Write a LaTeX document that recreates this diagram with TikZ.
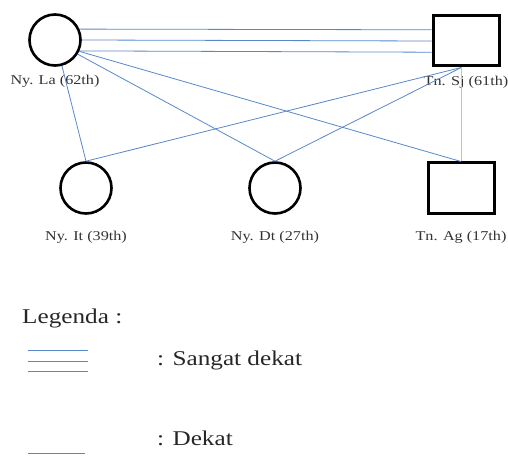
\documentclass[tikz,border=0pt]{standalone}
\usepackage{fontspec}
\setmainfont[FakeStretch=1.2]{Liberation Serif}
\usetikzlibrary{positioning}
\definecolor{tieblue}{RGB}{88,136,204}
\definecolor{tielight}{RGB}{172,198,234}

\begin{document}
\begin{tikzpicture}[
    x=1pt, y=-1pt,
    font=\fontsize{13.5}{16}\selectfont,
    female/.style={circle, draw=black, line width=2.6pt, minimum size=51pt,
                   inner sep=0pt},
    male/.style={rectangle, draw=black, line width=3pt, minimum width=66pt,
                 minimum height=50pt, inner sep=0pt},
    tag/.style={text=black!80, inner sep=0pt},
    tie/.style={tieblue, line width=0.8pt},
    weaktie/.style={tielight, line width=0.8pt},
    legendtext/.style={font=\fontsize{21}{25}\selectfont, text=black!85,
                       anchor=west, inner sep=0pt}
]
\useasboundingbox (0,0) rectangle (508,457);
% family members
\node[female] (La) at (55,40) {};
\node[male] (Sj) at (466,41) {};
\node[female] (It) at (86,188) {};
\node[female] (Dt) at (275,188) {};
\node[male] (Ag) at (461,188) {};
\node[tag, below=8pt of La] (laname) {Ny. La (62th)};
\node[tag, below=8pt of Sj] (sjname) {Tn. Sj (61th)};
\node[tag, below=16pt of It] (itname) {Ny. It (39th)};
\node[tag, below=16pt of Dt] (dtname) {Ny. Dt (27th)};
\node[tag, below=16pt of Ag] (agname) {Tn. Ag (17th)};
% relations
\foreach \a/\b in {24/162,0/180,-24/198}
    \draw[tie] (La.\a) -- (Sj.\b);
\draw[tie] (La.-75) -- (It.north);
\draw[tie] (La.-32) -- (Dt.north);
\draw[tie] (La.-25) -- (Ag.north);
\draw[tie] (Sj.-100) -- (It.north);
\draw[tie] (Sj.-100) -- (Dt.north);
\draw[weaktie] (Ag.north |- Sj.south) -- (Ag.north);
% legend
\node[legendtext] (legend) at (22,318) {Legenda :};
\node[legendtext] (verydear) at (157,360) {: Sangat dekat};
\node[legendtext] (dear) at (157,438) {: Dekat};
\foreach \y in {350,361,371}
    \draw[tie] (28,\y) -- (88,\y);
\draw[tie] (28,453) -- (85,453);
\end{tikzpicture}
\end{document}
